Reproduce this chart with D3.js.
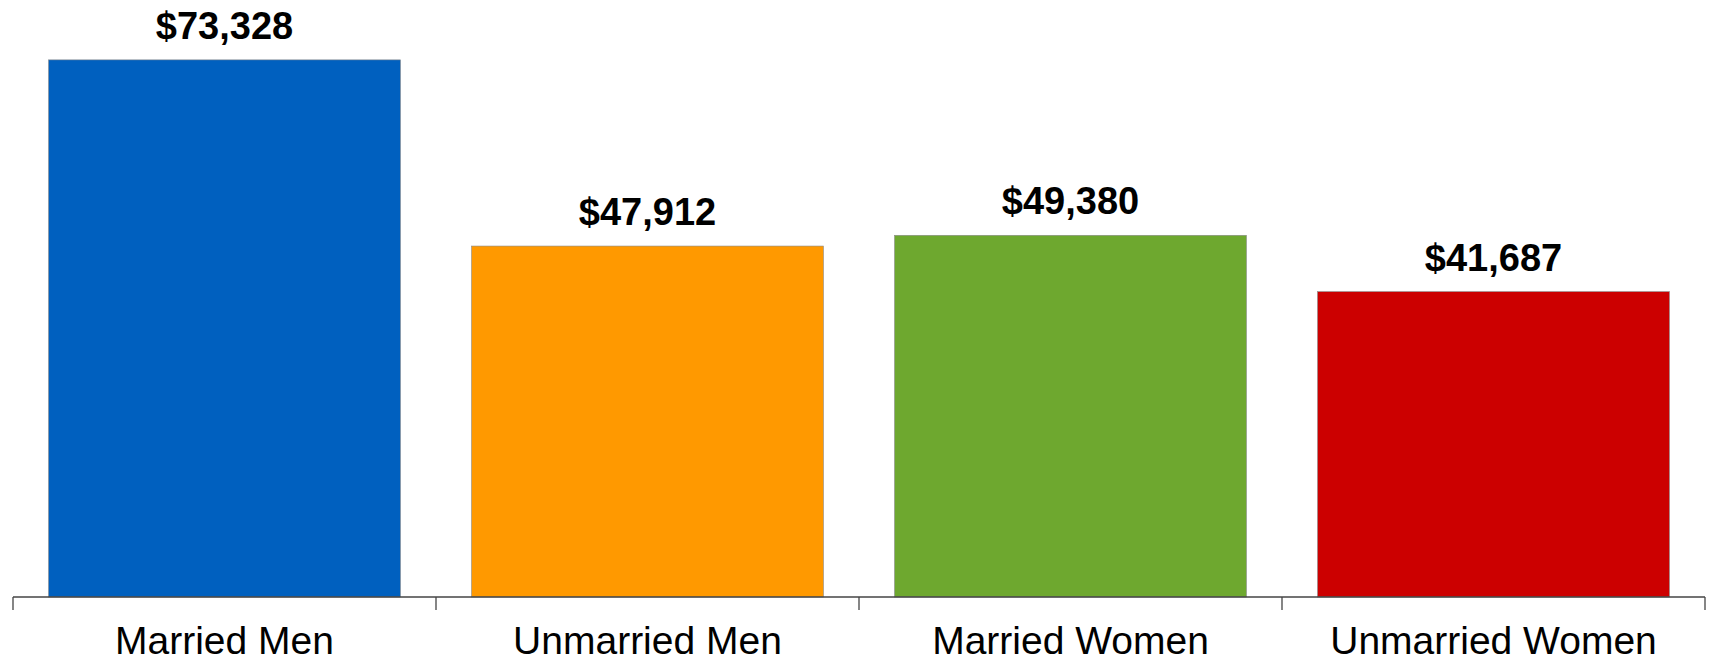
<!DOCTYPE html>
<meta charset="utf-8">
<title>Median income by marital status</title>
<style>
    body {
        margin: 0;
        background: #fff;
    }

    .value {
        font: bold 38px "Liberation Sans", Arial, sans-serif;
        fill: #000;
    }

    .cat {
        font: 39px "Liberation Sans", Arial, sans-serif;
        fill: #000;
    }
</style>

<body>
    <div id="chart"></div>

    <script src="https://cdn.jsdelivr.net/npm/d3@7"></script>
    <script>
        // chart data
        var categories = ["Married Men", "Unmarried Men", "Married Women", "Unmarried Women"];
        var values = [73328, 47912, 49380, 41687];
        var colors = ["#0060BF", "#FF9900", "#6EA82F", "#CC0000"];

        var W = 1712,
            H = 662;
        var margin = {
            top: 11,
            right: 7,
            bottom: 65,
            left: 13
        };
        var width = W - margin.left - margin.right,
            height = H - margin.top - margin.bottom;

        var svg = d3.select("#chart")
            .append("svg")
            .attr("width", W)
            .attr("height", H)
            .append("g")
            .attr("transform", "translate(" + margin.left + "," + margin.top + ")");

        var x = d3.scaleBand()
            .domain(categories)
            .range([0, width])
            .paddingInner(0.168)
            .paddingOuter(0.084);

        var y = d3.scaleLinear()
            .domain([0, 80000])
            .range([height, 0]);

        // bars
        svg.selectAll(".bar")
            .data(values)
            .enter()
            .append("rect")
            .attr("class", "bar")
            .attr("x", function(d, i) { return x(categories[i]); })
            .attr("width", x.bandwidth())
            .attr("y", function(d) { return y(d); })
            .attr("height", function(d) { return height - y(d); })
            .attr("fill", function(d, i) { return colors[i]; })
            .attr("stroke", "#8a8a8a")
            .attr("stroke-width", 0.6);

        // value labels above the bars
        svg.selectAll(".value")
            .data(values)
            .enter()
            .append("text")
            .attr("class", "value")
            .attr("text-anchor", "middle")
            .attr("x", function(d, i) { return x(categories[i]) + x.bandwidth() / 2; })
            .attr("y", function(d) { return y(d) - 21; })
            .text(function(d) { return "$" + d3.format(",")(d); });

        // bottom axis: ticks on the band edges
        var edges = categories.map(function(c) { return x(c) - x.step() * x.paddingInner() / 2; });
        edges[0] = 0;
        edges.push(width);

        var axis = svg.append("g")
            .attr("transform", "translate(0," + height + ")");

        axis.append("line")
            .attr("x1", 0)
            .attr("x2", width)
            .attr("stroke", "#444")
            .attr("stroke-width", 1.3);

        axis.selectAll(".tick")
            .data(edges)
            .enter()
            .append("line")
            .attr("x1", function(d) { return d; })
            .attr("x2", function(d) { return d; })
            .attr("y1", 0)
            .attr("y2", 13)
            .attr("stroke", "#444")
            .attr("stroke-width", 1.3);

        axis.selectAll(".cat")
            .data(categories)
            .enter()
            .append("text")
            .attr("class", "cat")
            .attr("text-anchor", "middle")
            .attr("x", function(d) { return x(d) + x.bandwidth() / 2; })
            .attr("y", 57)
            .text(function(d) { return d; });
    </script>
</body>
